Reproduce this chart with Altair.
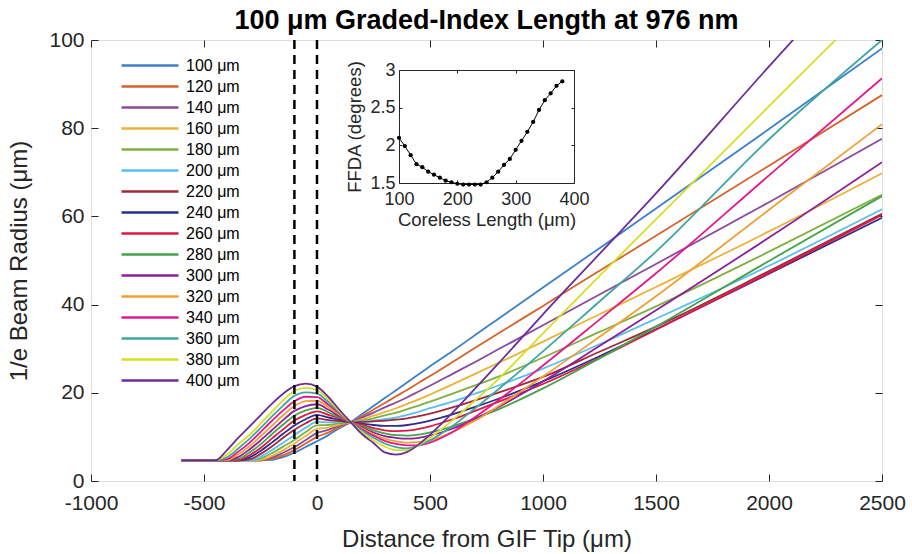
import altair as alt
import pandas as pd

# ---------------- data ----------------
X_POS = [-600, -450, -400, -350, -300, -250, -200, -150, -100, -50, 0, 50, 100, 150, 200,
         250, 300, 350, 400, 450, 500, 600, 700, 800, 1000, 1250, 1500, 2000, 2500]

SERIES = ["100 μm", "120 μm", "140 μm", "160 μm", "180 μm", "200 μm", "220 μm", "240 μm",
          "260 μm", "280 μm", "300 μm", "320 μm", "340 μm", "360 μm", "380 μm", "400 μm"]

COLORS = ["#3d7fc9", "#d9622b", "#8a4a9e", "#eab33a", "#7fb040", "#5cc0ee", "#a3283e", "#2b2f8a",
          "#dd1844", "#45a34a", "#8e1f9c", "#f0a032", "#e3198a", "#3fa6a2", "#d6df22", "#6b2d9a"]

R100 = [4.7, 4.7, 4.7, 4.7, 4.7, 4.7, 4.8, 5.4, 6.4, 7.7, 9.0, 10.4, 12.0, 13.4, 15.2, 17.0, 18.8, 20.6, 22.4, 24.2, 26.0, 29.5, 33.1, 36.7, 43.9, 52.8, 61.8, 79.8, 98.1]
R120 = [4.7, 4.7, 4.7, 4.7, 4.7, 4.7, 5.0, 5.8, 7.0, 8.5, 10.0, 11.0, 12.3, 13.3, 14.7, 16.2, 17.7, 19.2, 20.7, 22.3, 23.8, 27.0, 30.2, 33.4, 39.7, 47.7, 55.6, 71.5, 87.5]
R140 = [4.7, 4.7, 4.7, 4.7, 4.7, 4.7, 5.3, 6.4, 7.7, 9.3, 10.9, 11.6, 12.6, 13.3, 14.4, 15.5, 16.7, 17.8, 19.0, 20.3, 21.6, 24.3, 27.0, 29.8, 35.3, 42.3, 49.2, 63.2, 77.6]
R160 = [4.7, 4.7, 4.7, 4.7, 4.7, 4.8, 5.7, 7.0, 8.5, 10.2, 11.8, 12.1, 12.8, 13.3, 14.0, 14.8, 15.6, 16.5, 17.5, 18.5, 19.6, 21.9, 24.3, 26.7, 31.6, 37.8, 44.0, 56.6, 69.8]
R180 = [4.7, 4.7, 4.7, 4.7, 4.7, 5.1, 6.3, 7.8, 9.3, 11.1, 12.6, 12.7, 13.1, 13.3, 13.7, 14.2, 14.9, 15.5, 16.3, 17.1, 18.0, 19.8, 21.7, 23.6, 28.0, 33.8, 39.6, 52.0, 64.9]
R200 = [4.7, 4.7, 4.7, 4.7, 4.7, 5.5, 7.0, 8.7, 10.4, 12.1, 13.4, 13.3, 13.4, 13.3, 13.5, 13.7, 14.0, 14.4, 15.0, 15.7, 16.5, 18.0, 19.8, 21.6, 25.5, 31.0, 36.8, 48.8, 61.6]
R220 = [4.7, 4.7, 4.7, 4.7, 4.9, 6.1, 7.8, 9.8, 11.6, 13.1, 14.2, 13.8, 13.6, 13.3, 13.4, 13.5, 13.7, 13.9, 14.2, 14.7, 15.3, 16.7, 18.3, 20.0, 23.6, 29.3, 35.0, 47.6, 60.6]
R240 = [4.7, 4.7, 4.7, 4.7, 5.3, 6.8, 8.7, 10.7, 12.6, 14.0, 15.0, 14.4, 13.9, 13.3, 13.0, 12.7, 12.5, 12.5, 12.7, 13.1, 13.7, 15.1, 16.8, 18.6, 22.6, 28.3, 34.4, 47.0, 59.7]
R260 = [4.7, 4.7, 4.7, 4.7, 5.8, 7.5, 9.6, 11.7, 13.7, 15.0, 15.8, 15.0, 14.2, 13.3, 12.7, 12.0, 11.5, 11.3, 11.4, 11.8, 12.4, 14.0, 15.9, 17.9, 22.0, 27.9, 34.3, 47.2, 60.3]
R280 = [4.7, 4.7, 4.7, 5.0, 6.4, 8.3, 10.6, 12.8, 14.8, 16.0, 16.6, 15.6, 14.4, 13.3, 12.4, 11.5, 10.8, 10.4, 10.3, 10.5, 11.0, 12.4, 14.2, 16.2, 21.0, 27.8, 35.0, 49.9, 64.6]
R300 = [4.7, 4.7, 4.7, 5.4, 7.1, 9.2, 11.5, 13.8, 15.9, 17.0, 17.4, 16.2, 14.7, 13.3, 12.1, 11.0, 10.2, 9.8, 9.6, 9.8, 10.3, 11.9, 14.1, 16.7, 22.6, 30.6, 38.7, 55.2, 72.3]
R320 = [4.7, 4.7, 4.7, 6.0, 7.8, 10.1, 12.5, 14.9, 17.0, 18.1, 18.2, 16.7, 15.0, 13.3, 11.9, 10.6, 9.6, 9.0, 8.7, 8.8, 9.2, 11.1, 13.7, 16.9, 23.7, 32.7, 41.9, 61.5, 80.9]
R340 = [4.7, 4.7, 4.9, 6.6, 8.6, 11.1, 13.6, 16.0, 18.1, 19.1, 19.0, 17.3, 15.3, 13.3, 11.7, 10.3, 9.1, 8.4, 8.1, 8.1, 8.7, 11.1, 14.5, 18.2, 26.2, 36.6, 47.1, 69.3, 91.3]
R360 = [4.7, 4.7, 5.3, 7.3, 9.5, 12.0, 14.6, 17.1, 19.3, 20.1, 19.8, 17.9, 15.5, 13.3, 11.4, 9.8, 8.5, 7.7, 7.4, 8.1, 9.2, 12.5, 16.5, 20.7, 29.4, 40.7, 52.0, 77.5, 100.0]
R380 = [4.7, 4.7, 5.9, 8.3, 10.4, 13.0, 15.7, 18.3, 20.4, 21.1, 20.6, 18.5, 15.8, 13.3, 11.0, 9.2, 7.8, 7.0, 7.0, 8.2, 9.8, 13.8, 18.3, 23.0, 33.5, 46.5, 59.3, 85.0, 110.5]
R400 = [4.7, 4.7, 6.9, 9.7, 12.3, 14.9, 17.5, 19.8, 21.5, 22.1, 21.4, 19.1, 16.1, 13.3, 10.6, 8.6, 6.5, 6.0, 6.6, 8.3, 10.5, 15.5, 21.0, 26.5, 37.8, 51.5, 65.2, 94.0, 122.0]

ALL_R = [R100, R120, R140, R160, R180, R200, R220, R240, R260, R280, R300, R320, R340, R360, R380, R400]

FFDA_LEN = [100, 110, 120, 130, 140, 150, 160, 170, 180, 190, 200, 210, 220, 230, 240, 250, 260,
            270, 280, 290, 300, 310, 320, 330, 340, 350, 360, 370, 380]
FFDA_DEG = [2.10, 1.99, 1.87, 1.75, 1.71, 1.65, 1.61, 1.57, 1.53, 1.51, 1.49, 1.48, 1.48, 1.48, 1.48,
            1.51, 1.57, 1.65, 1.74, 1.82, 1.94, 2.06, 2.18, 2.31, 2.47, 2.60, 2.69, 2.79, 2.85]

X_TICKS = [-1000, -500, 0, 500, 1000, 1500, 2000, 2500]
Y_TICKS = [0, 20, 40, 60, 80, 100]
DASH_X = [-100, 0]
IN_X_TICKS = [100, 200, 300, 400]
IN_Y_TICKS = [1.5, 2, 2.5, 3]

rows = []
for name, vals in zip(SERIES, ALL_R):
    for xv, rv in zip(X_POS, vals):
        rows.append({"x": xv, "r": rv, "series": name})
df = pd.DataFrame(rows)
df_in = df[df["r"] <= 100]
df_ff = pd.DataFrame({"len": FFDA_LEN, "deg": FFDA_DEG})
df_dash = pd.DataFrame({"x": DASH_X})

# ---------------- layout constants ----------------
W, H = 791, 441
FONT = "Liberation Sans"
AX = "#262626"
TL = 7          # main tick length
IN_L, IN_R, IN_T, IN_B = 308, 483, 30, 143   # inset frame inside plot (px)
ITL = 3

xs = alt.Scale(domain=[-1000, 2500], nice=False, zero=False)
ys = alt.Scale(domain=[0, 100], nice=False, zero=False)

common_lab = dict(labelFont=FONT, titleFont=FONT, labelColor=AX, titleColor=AX,
                  titleFontWeight="normal", grid=False, labelFlush=False)

# main lines with label axes
lines = alt.Chart(df).mark_line(strokeWidth=1.8, clip=True, interpolate="monotone").encode(
    x=alt.X("x:Q", scale=xs, axis=alt.Axis(orient="bottom", values=X_TICKS, ticks=False, domain=False,
                                           labelExpr="'' + datum.value", labelFontSize=21, labelPadding=11,
                                           title="Distance from GIF Tip (μm)", titleFontSize=24, titlePadding=14,
                                           **common_lab)),
    y=alt.Y("r:Q", scale=ys, axis=alt.Axis(orient="left", values=Y_TICKS, ticks=False, domain=False,
                                           labelFontSize=21, labelPadding=7,
                                           title="1/e Beam Radius (μm)", titleFontSize=24, titlePadding=17,
                                           **common_lab)),
    color=alt.Color("series:N", sort=SERIES, scale=alt.Scale(domain=SERIES, range=COLORS),
                    legend=alt.Legend(title=None, orient="none", legendX=29, legendY=15,
                                      symbolType="stroke", symbolSize=3249, symbolStrokeWidth=2.5,
                                      labelFontSize=16, labelFont=FONT, labelColor="#000000",
                                      clipHeight=21, rowPadding=0, labelOffset=6, padding=0,
                                      symbolLimit=0)),
)

# inward ticks bottom/left
ticks_bl = alt.Chart(df_in).mark_point(opacity=0, clip=True).encode(
    x=alt.X("x:Q", scale=xs, axis=alt.Axis(orient="bottom", values=X_TICKS, labels=False, domain=False,
                                           tickSize=TL, offset=-TL, tickColor=AX, title=None, grid=False)),
    y=alt.Y("r:Q", scale=ys, axis=alt.Axis(orient="left", values=Y_TICKS, labels=False, domain=False,
                                           tickSize=TL, offset=-TL, tickColor=AX, title=None, grid=False)),
)
# inward ticks top/right
ticks_tr = alt.Chart(df_in).mark_point(opacity=0, clip=True).encode(
    x=alt.X("x:Q", scale=xs, axis=alt.Axis(orient="top", values=X_TICKS, labels=False, domain=False,
                                           tickSize=TL, offset=-TL, tickColor=AX, title=None, grid=False)),
    y=alt.Y("r:Q", scale=ys, axis=alt.Axis(orient="right", values=Y_TICKS, labels=False, domain=False,
                                           tickSize=TL, offset=-TL, tickColor=AX, title=None, grid=False)),
)

dashes = alt.Chart(df_dash).mark_rule(color="black", strokeWidth=2.5, strokeDash=[9, 6]).encode(
    x=alt.X("x:Q", scale=xs, axis=None)
)

main = alt.layer(lines, ticks_bl, ticks_tr, dashes).resolve_axis(x="independent", y="independent")

# ---------------- inset ----------------
xi = alt.Scale(domain=[100, 400], range=[IN_L, IN_R], nice=False, zero=False)
yi = alt.Scale(domain=[1.5, 3], range=[IN_B, IN_T], nice=False, zero=False)

in_line = alt.Chart(df_ff).mark_line(color="black", strokeWidth=1).encode(
    x=alt.X("len:Q", scale=xi, axis=alt.Axis(orient="bottom", offset=-(H - IN_B), values=IN_X_TICKS,
                                             ticks=False, domain=True, domainColor=AX, labelFontSize=18,
                                             labelPadding=7, title="Coreless Length (μm)", titleFontSize=18.5,
                                             titlePadding=2, **common_lab)),
    y=alt.Y("deg:Q", scale=yi, axis=alt.Axis(orient="left", offset=-IN_L, values=IN_Y_TICKS,
                                             labelExpr="'' + datum.value",
                                             ticks=False, domain=True, domainColor=AX, labelFontSize=18,
                                             labelPadding=4, title="FFDA (degrees)", titleFontSize=18.5,
                                             titlePadding=5, **common_lab)),
)
in_pts = alt.Chart(df_ff).mark_circle(color="black", size=18, opacity=1).encode(
    x=alt.X("len:Q", scale=xi, axis=alt.Axis(orient="bottom", offset=-(H - IN_B) - ITL, values=IN_X_TICKS,
                                             labels=False, domain=False, tickSize=ITL, tickColor=AX,
                                             title=None, grid=False)),
    y=alt.Y("deg:Q", scale=yi, axis=alt.Axis(orient="left", offset=-IN_L - ITL, values=IN_Y_TICKS,
                                             labels=False, domain=False, tickSize=ITL, tickColor=AX,
                                             title=None, grid=False)),
)
in_box = alt.Chart(df_ff).mark_point(opacity=0).encode(
    x=alt.X("len:Q", scale=xi, axis=alt.Axis(orient="top", offset=-IN_T, values=IN_X_TICKS,
                                             labels=False, ticks=False, domain=True, domainColor=AX,
                                             title=None, grid=False)),
    y=alt.Y("deg:Q", scale=yi, axis=alt.Axis(orient="right", offset=-(W - IN_R), values=IN_Y_TICKS,
                                             labels=False, ticks=False, domain=True, domainColor=AX,
                                             title=None, grid=False)),
)
in_ticks2 = alt.Chart(df_ff).mark_point(opacity=0).encode(
    x=alt.X("len:Q", scale=xi, axis=alt.Axis(orient="top", offset=-IN_T - ITL, values=IN_X_TICKS,
                                             labels=False, domain=False, tickSize=ITL, tickColor=AX,
                                             title=None, grid=False)),
    y=alt.Y("deg:Q", scale=yi, axis=alt.Axis(orient="right", offset=-(W - IN_R) - ITL, values=IN_Y_TICKS,
                                             labels=False, domain=False, tickSize=ITL, tickColor=AX,
                                             title=None, grid=False)),
)
inset = alt.layer(in_line, in_pts, in_box, in_ticks2).resolve_axis(x="independent", y="independent")

chart = alt.layer(main, inset).resolve_scale(x="independent", y="independent").resolve_axis(
    x="independent", y="independent"
).properties(
    width=W, height=H,
    title=alt.TitleParams("100 μm Graded-Index Length at 976 nm", font=FONT, fontSize=27,
                          fontWeight="bold", color="black", anchor="middle", frame="group",
                          offset=9, dy=15),
    autosize=alt.AutoSizeParams(type="none"),
    padding={"left": 91, "top": 40, "right": 30, "bottom": 73},
).configure_view(stroke="#4a4a4a", strokeWidth=1).configure(background="white")

chart.save("out.html", embed_options={"renderer": "svg", "actions": False})
